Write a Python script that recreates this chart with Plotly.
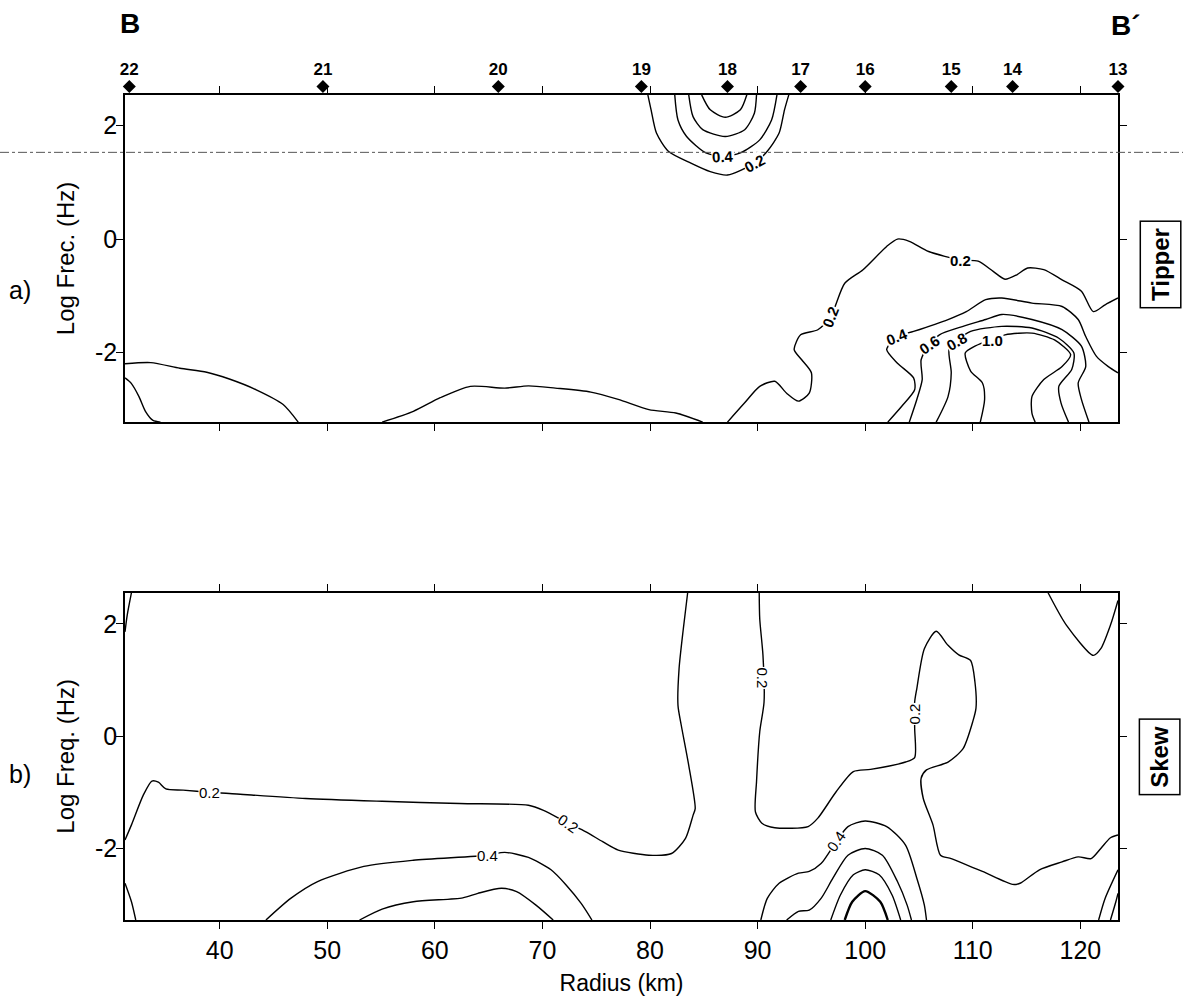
import plotly.graph_objects as go

# ---------------- data ----------------
radius_ticks = [40, 50, 60, 70, 80, 90, 100, 110, 120]
logf_ticks = [-2, 0, 2]
logf_tick_text = ["-2", "0", "2"]

station_ids = ["22", "21", "20", "19", "18", "17", "16", "15", "14", "13"]
station_km = [31.6, 49.6, 65.9, 79.2, 87.2, 94.0, 100.0, 108.0, 113.7, 123.5]

# Tipper isolines (radius km, log frequency)
tipper_left_outer = [(31.2, -2.20), (33.6, -2.18), (36.3, -2.28), (38.8, -2.35), (40.9, -2.47),
                     (43.4, -2.66), (45.9, -2.92), (47.3, -3.23)]
tipper_left_inner = [(31.2, -2.45), (31.8, -2.55), (32.5, -2.78), (33.1, -3.04), (33.8, -3.20), (34.5, -3.23)]
tipper_mid_02 = [(55.1, -3.23), (58.0, -3.04), (60.5, -2.80), (63.3, -2.60), (66.5, -2.63), (68.7, -2.59),
                 (71.2, -2.63), (74.5, -2.70), (77.05, -2.83), (79.9, -3.01), (82.4, -3.07), (84.9, -3.23)]
tipper_right_02 = [(87.2, -3.23), (88.8, -2.89), (90.2, -2.60), (91.6, -2.51), (92.7, -2.72), (93.8, -2.86),
                   (94.8, -2.72), (95.0, -2.36), (94.1, -2.13), (93.4, -1.95), (94.0, -1.69), (95.6, -1.60),
                   (96.8, -1.37), (98.1, -0.78), (99.8, -0.54), (102.0, -0.13), (103.0, 0.0), (104.1, -0.04),
                   (105.9, -0.22), (108.9, -0.37), (110.5, -0.39), (111.9, -0.57), (113.0, -0.71), (114.1, -0.63),
                   (115.1, -0.51), (116.6, -0.54), (118.3, -0.72), (120.1, -0.92), (121.2, -1.28), (122.3, -1.16),
                   (123.5, -1.04)]
tipper_right_04 = [(102.1, -3.23), (103.4, -2.95), (104.6, -2.66), (104.5, -2.45), (103.0, -2.19), (102.0, -1.95),
                   (103.0, -1.72), (104.5, -1.63), (107.7, -1.42), (109.4, -1.28), (111.2, -1.07), (112.7, -1.04),
                   (115.5, -1.13), (118.3, -1.19), (119.8, -1.42), (120.5, -1.72), (121.5, -2.07), (122.6, -2.25),
                   (123.5, -2.36)]
tipper_right_06 = [(104.1, -3.23), (104.8, -2.83), (105.3, -2.48), (105.2, -2.13), (106.0, -1.86), (106.9, -1.69),
                   (109.1, -1.54), (111.2, -1.42), (112.7, -1.33), (115.5, -1.42), (118.3, -1.60), (120.1, -1.89),
                   (120.5, -2.25), (119.8, -2.54), (120.1, -2.83), (120.8, -3.23)]
tipper_right_08 = [(106.6, -3.23), (107.7, -2.78), (108.0, -2.36), (107.8, -1.95), (108.5, -1.80), (109.8, -1.63),
                   (112.7, -1.54), (115.5, -1.57), (118.0, -1.75), (119.4, -2.01), (119.2, -2.30), (118.0, -2.60),
                   (118.2, -2.89), (118.9, -3.23)]
tipper_right_10 = [(110.7, -3.23), (111.1, -2.83), (110.9, -2.54), (109.8, -2.33), (109.3, -2.01), (110.2, -1.89),
                   (113.0, -1.69), (115.5, -1.66), (117.6, -1.78), (119.1, -2.04), (118.3, -2.25), (116.6, -2.48),
                   (115.5, -2.78), (115.5, -3.07), (115.8, -3.23)]
tipper_top_02 = [(79.8, 2.545), (80.1, 2.28), (80.6, 1.87), (81.7, 1.55), (83.8, 1.34), (85.6, 1.19), (87.2, 1.13),
                 (89.7, 1.34), (90.9, 1.55), (92.0, 1.87), (92.5, 2.28), (92.9, 2.545)]
tipper_top_04 = [(82.3, 2.545), (82.6, 2.10), (83.4, 1.81), (85.2, 1.52), (86.8, 1.46), (88.4, 1.52), (90.2, 1.75),
                 (91.3, 2.10), (91.8, 2.545)]
tipper_top_06 = [(83.6, 2.545), (84.0, 2.16), (84.9, 1.93), (87.0, 1.81), (88.8, 1.93), (89.7, 2.22), (89.9, 2.545)]
tipper_top_08 = [(84.8, 2.545), (85.6, 2.28), (87.0, 2.15), (88.4, 2.28), (89.0, 2.545)]

# Skew isolines (radius km, log frequency)
skew_long_02 = [(31.2, -1.85), (31.8, -1.58), (32.9, -1.05), (33.7, -0.80), (34.3, -0.82), (35.0, -0.94),
                (36.6, -0.96), (39.1, -1.00), (40.9, -1.02), (48.0, -1.11), (55.1, -1.16), (62.3, -1.20),
                (68.7, -1.23), (70.1, -1.32), (72.4, -1.55), (74.0, -1.70), (75.6, -1.88), (77.05, -2.03),
                (79.9, -2.12), (82.0, -2.09), (83.3, -1.82), (84.0, -1.41), (84.2, -1.29), (83.6, -0.52),
                (82.9, 0.20), (82.6, 0.55), (82.7, 1.20), (83.1, 1.92), (83.5, 2.557)]
skew_column_02 = [(90.15, 2.557), (90.2, 2.09), (90.5, 1.44), (90.6, 0.61), (90.2, 0.08), (89.9, -0.81),
                  (89.8, -1.35), (90.4, -1.55), (91.6, -1.63), (94.7, -1.61), (95.6, -1.46), (97.3, -0.99),
                  (98.9, -0.63), (100.5, -0.59), (103.75, -0.46), (104.6, -0.38), (104.6, 0.14), (104.6, 0.61),
                  (104.8, 0.85), (105.5, 1.56), (106.6, 1.87), (107.7, 1.62), (108.7, 1.45), (109.8, 1.35),
                  (110.2, 0.97), (110.3, 0.50), (110.0, 0.26), (109.1, -0.22), (107.7, -0.46), (105.7, -0.60),
                  (105.2, -0.75), (105.4, -1.11), (106.3, -1.58), (107.0, -2.12), (108.0, -2.18), (110.9, -2.41),
                  (113.7, -2.64), (114.4, -2.62), (116.2, -2.38), (118.3, -2.24), (119.8, -2.15), (121.0, -2.18),
                  (121.9, -2.00), (122.8, -1.81), (123.5, -1.76)]
skew_left_04 = [(44.3, -3.275), (46.6, -2.89), (49.1, -2.59), (53.4, -2.32), (58.0, -2.21), (64.9, -2.12),
                (66.5, -2.07), (68.7, -2.16), (70.8, -2.38), (72.2, -2.65), (73.6, -2.98), (74.6, -3.275)]
skew_left_06 = [(53.0, -3.275), (55.1, -3.08), (58.0, -2.95), (62.6, -2.88), (64.0, -2.80), (66.2, -2.71),
                (67.6, -2.77), (69.4, -3.01), (71.0, -3.275)]
skew_corner_bl = [(31.2, -2.62), (31.8, -2.95), (32.2, -3.275)]
skew_corner_tl = [(31.8, 2.557), (31.4, 2.15), (31.2, 1.86)]
skew_peak_04 = [(90.3, -3.275), (90.9, -2.89), (92.0, -2.62), (93.8, -2.44), (94.8, -2.41), (95.9, -2.27),
                (97.3, -1.88), (98.4, -1.61), (100.0, -1.51), (102.0, -1.61), (103.75, -1.94), (104.8, -2.53),
                (105.5, -3.01), (105.7, -3.275)]
skew_peak_06 = [(92.7, -3.275), (93.8, -3.12), (94.8, -3.10), (95.9, -2.89), (97.0, -2.53), (98.4, -2.12),
                (100.0, -2.00), (101.6, -2.12), (103.0, -2.59), (103.9, -3.01), (104.3, -3.275)]
skew_peak_08 = [(96.8, -3.275), (97.7, -2.83), (98.9, -2.47), (100.0, -2.38), (101.3, -2.47), (102.5, -2.83),
                (103.3, -3.275)]
skew_peak_10 = [(98.1, -3.275), (98.8, -2.95), (100.0, -2.76), (101.4, -2.95), (102.1, -3.275)]
skew_corner_br1 = [(121.7, -3.275), (122.3, -2.89), (123.5, -2.38)]
skew_corner_br2 = [(122.8, -3.275), (123.3, -2.95), (123.5, -2.80)]
skew_corner_tr = [(117.0, 2.557), (118.7, 1.98), (121.2, 1.44), (121.9, 1.56), (122.8, 1.98), (123.5, 2.42)]

# contour labels: (text, radius, log f, angle)
tipper_labels = [("0.4", 86.8, 1.46, -3), ("0.2", 89.7, 1.34, -28), ("0.2", 108.9, -0.37, 0),
                 ("0.2", 96.8, -1.37, -68), ("0.4", 103.0, -1.72, -22), ("0.6", 106.0, -1.86, -35),
                 ("0.8", 108.5, -1.80, -30), ("1.0", 111.8, -1.79, 0)]
skew_labels = [("0.2", 39.1, -1.00, 0), ("0.2", 72.4, -1.55, 35), ("0.4", 64.9, -2.12, 0),
               ("0.2", 90.5, 1.03, 90), ("0.2", 104.6, 0.40, -90), ("0.4", 97.3, -1.88, -55)]

X_RANGE = [31.2, 123.5]
Y1_RANGE = [-3.23, 2.545]
Y2_RANGE = [-3.275, 2.557]

FONT = "Liberation Sans, Arial, sans-serif"

fig = go.Figure()


def add_line(pts, xa, ya, width=1.4):
    fig.add_trace(go.Scatter(
        x=[p[0] for p in pts], y=[p[1] for p in pts], xaxis=xa, yaxis=ya,
        mode="lines", line=dict(color="black", width=width, shape="spline", smoothing=0.7),
        hoverinfo="skip", showlegend=False))


for c in [tipper_left_outer, tipper_left_inner, tipper_mid_02, tipper_right_02, tipper_right_04,
          tipper_right_06, tipper_right_08, tipper_right_10, tipper_top_02, tipper_top_04,
          tipper_top_06, tipper_top_08]:
    add_line(c, "x", "y")

for c in [skew_long_02, skew_column_02, skew_left_04, skew_left_06, skew_corner_bl, skew_corner_tl,
          skew_peak_04, skew_peak_06, skew_peak_08, skew_corner_br1, skew_corner_br2, skew_corner_tr]:
    add_line(c, "x2", "y2")
add_line(skew_peak_10, "x2", "y2", width=2.4)

# stations (on a thin strip axis above the Tipper panel)
fig.add_trace(go.Scatter(
    x=station_km, y=[0.11] * len(station_km), xaxis="x", yaxis="y3",
    mode="markers+text", text=["<b>%s</b>" % s for s in station_ids], textposition="top center",
    textfont=dict(family=FONT, size=17, color="black"),
    marker=dict(symbol="diamond", size=10, color="black"),
    cliponaxis=False, hoverinfo="skip", showlegend=False))

annotations = []
for t, r, f, a in tipper_labels:
    annotations.append(dict(text="<b>%s</b>" % t, x=r, y=f, xref="x", yref="y", showarrow=False,
                            textangle=a, bgcolor="white", borderpad=0, xanchor="center", yanchor="middle",
                            font=dict(family=FONT, size=15, color="black")))
for t, r, f, a in skew_labels:
    annotations.append(dict(text=t, x=r, y=f, xref="x2", yref="y2", showarrow=False, textangle=a,
                            bgcolor="white", borderpad=0, xanchor="center", yanchor="middle",
                            font=dict(family=FONT, size=15, color="black")))


def paper_x(px):
    return (px - 125) / 993.0


def paper_y(py):
    return (922 - py) / 902.0


annotations += [
    dict(text="<b>B</b>", x=paper_x(130), y=paper_y(24), xref="paper", yref="paper", showarrow=False,
         xanchor="center", yanchor="middle", font=dict(family=FONT, size=28, color="black")),
    dict(text="<b>B´</b>", x=paper_x(1126), y=paper_y(26), xref="paper", yref="paper", showarrow=False,
         xanchor="center", yanchor="middle", font=dict(family=FONT, size=28, color="black")),
    dict(text="<b>Tipper</b>", x=paper_x(1161), y=paper_y(265), xref="paper", yref="paper", showarrow=False,
         xanchor="center", yanchor="middle",
         textangle=-90, bordercolor="black", borderwidth=1.5, borderpad=6, bgcolor="white",
         font=dict(family=FONT, size=24, color="black")),
    dict(text="<b>Skew</b>", x=paper_x(1160), y=paper_y(759), xref="paper", yref="paper", showarrow=False,
         xanchor="center", yanchor="middle",
         textangle=-90, bordercolor="black", borderwidth=1.5, borderpad=6, bgcolor="white",
         font=dict(family=FONT, size=24, color="black")),
    dict(text="a)", x=paper_x(20), y=paper_y(291), xref="paper", yref="paper", showarrow=False,
         xanchor="center", yanchor="middle", font=dict(family=FONT, size=25, color="black")),
    dict(text="b)", x=paper_x(20), y=paper_y(776), xref="paper", yref="paper", showarrow=False,
         xanchor="center", yanchor="middle", font=dict(family=FONT, size=25, color="black")),
]

axis_common = dict(showline=True, linecolor="black", linewidth=1.5, mirror="ticks", ticks="outside",
                   ticklen=7, tickwidth=1.2, tickcolor="black", showgrid=False, zeroline=False)

fig.update_layout(
    width=1183, height=1004,
    margin=dict(l=125, r=65, t=20, b=82),
    paper_bgcolor="white", plot_bgcolor="white",
    font=dict(family=FONT, size=25, color="black"),
    showlegend=False,
    xaxis=dict(domain=[0, 1], anchor="y", range=X_RANGE, tickvals=radius_ticks,
               showticklabels=False, **axis_common),
    yaxis=dict(domain=[paper_y(423), paper_y(95)], anchor="x", range=Y1_RANGE, tickvals=logf_ticks,
               ticktext=logf_tick_text, ticklabelstandoff=-6,
               title=dict(text="Log Frec. (Hz)", standoff=14, font=dict(size=24)), **axis_common),
    yaxis3=dict(domain=[paper_y(95), 1.0], anchor="x", range=[0, 1], visible=False, fixedrange=True),
    xaxis2=dict(domain=[0, 1], anchor="y2", range=X_RANGE, tickvals=radius_ticks,
                title=dict(text="Radius (km)", standoff=12, font=dict(size=23)), **axis_common),
    yaxis2=dict(domain=[0, paper_y(594)], anchor="x2", range=Y2_RANGE, tickvals=logf_ticks,
                ticktext=logf_tick_text, ticklabelstandoff=-6,
                title=dict(text="Log Freq. (Hz)", standoff=14, font=dict(size=24)), **axis_common),
    annotations=annotations,
    shapes=[dict(type="line", xref="paper", yref="y", x0=paper_x(0), x1=paper_x(1183), y0=1.53, y1=1.53,
                 line=dict(color="#555", width=1, dash="dashdot"))],
)

fig.write_html("out.html")
